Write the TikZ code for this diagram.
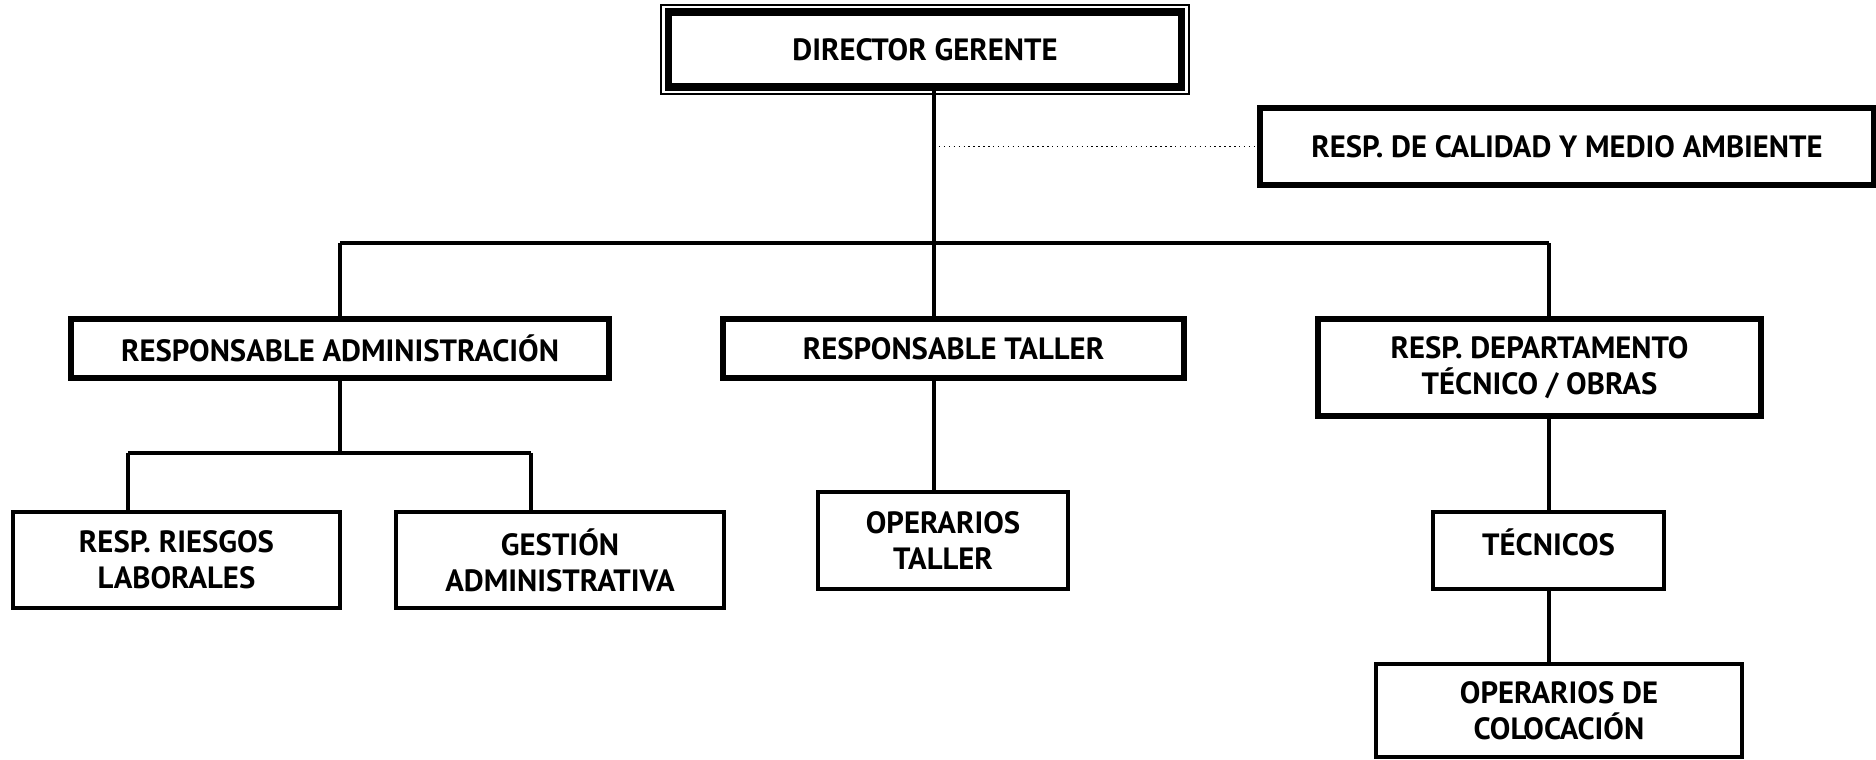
\documentclass[tikz,border=0pt]{standalone}
\usepackage{fontspec}
\setmainfont{PT Sans}
\usepackage{tikz}
\usetikzlibrary{positioning, calc}

\begin{document}
\begin{tikzpicture}[
    x=0.02cm, y=-0.02cm,
    box/.style={rectangle, draw, line width=2.3pt, align=center, inner sep=0pt,
                font=\fontsize{17.5}{20.5}\selectfont\bfseries},
    mainbox/.style={box, line width=3.4pt},
    link/.style={line width=2pt}
]
    \useasboundingbox (0,0) rectangle (1876,760);

    % Top
    \node[mainbox, line width=4pt, minimum width=10.28cm, minimum height=1.5cm] at (925,49.5) (dir) {DIRECTOR GERENTE};
    \draw[line width=1.1pt] ($(dir.north west)+(-1.8pt,1.8pt)$) rectangle ($(dir.south east)+(1.8pt,-1.8pt)$);
    \node[mainbox, minimum width=12.28cm, minimum height=1.54cm] at (1567,146.5) (cal) {RESP. DE CALIDAD Y MEDIO AMBIENTE};

    % Second level
    \node[mainbox, minimum width=10.76cm, minimum height=1.18cm] at (340,348.5) (adm) {RESPONSABLE ADMINISTRACIÓN};
    \node[mainbox, minimum width=9.22cm, minimum height=1.18cm] at (953.5,348.5) (tal) {RESPONSABLE TALLER};
    \node[mainbox, minimum width=8.86cm, minimum height=1.94cm] at (1539.5,367.5) (dep) {RESP. DEPARTAMENTO\\TÉCNICO / OBRAS};

    % Third level
    \node[box, minimum width=6.54cm, minimum height=1.92cm] at (176.5,560) (rie) {RESP. RIESGOS\\LABORALES};
    \node[box, minimum width=6.56cm, minimum height=1.92cm] at (560,560) (ges) {GESTIÓN\\ADMINISTRATIVA};
    \node[box, minimum width=5cm, minimum height=1.94cm] at (943,540.5) (opt) {OPERARIOS\\TALLER};
    \node[box, minimum width=4.62cm, minimum height=1.54cm, text depth=10pt] at (1548.5,550.5) (tec) {TÉCNICOS};
    \node[box, minimum width=7.32cm, minimum height=1.86cm] at (1559,710.5) (opc) {OPERARIOS DE\\COLOCACIÓN};

    % Connectors
    \coordinate (bar) at (934,243);
    \coordinate (barL) at (340,243);
    \coordinate (barR) at (1549,243);
    \coordinate (subL) at (128,453);
    \coordinate (subR) at (531,453);

    \draw[link] (dir.south -| bar) -- (bar);
    \draw[link] (bar) -- (tal.north -| bar);
    \draw[link] (barL) -- (barR);
    \draw[link] (barL) -- (adm.north);
    \draw[link] (barR) -- (dep.north -| barR);
    \draw[dotted, line width=0.8pt] (bar |- cal.west) -- (cal.west);

    \draw[link] (adm.south) -- (adm.south |- subL);
    \draw[link] (subL) -- (subR);
    \draw[link] (subL) -- (subL |- rie.north);
    \draw[link] (subR) -- (subR |- ges.north);

    \draw[link] (tal.south -| bar) -- (opt.north -| bar);
    \draw[link] (dep.south -| barR) -- (tec.north -| barR);
    \draw[link] (tec.south -| barR) -- (opc.north -| barR);
\end{tikzpicture}
\end{document}
